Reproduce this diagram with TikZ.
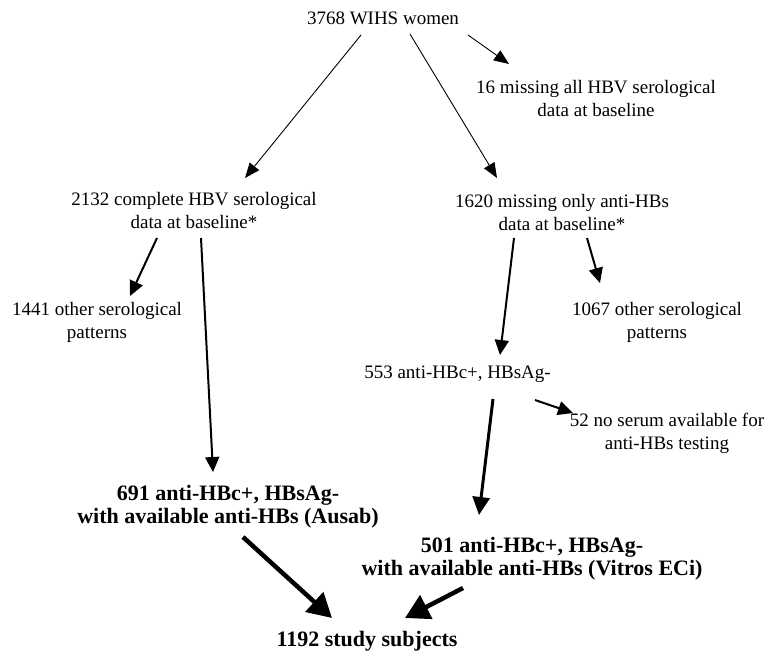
\documentclass[tikz,border=0pt]{standalone}
\usepackage{fontspec}
\setmainfont{Liberation Serif}
\usepackage{tikz}
\usetikzlibrary{arrows.meta}

\tikzset{
  txt/.style={inner sep=0pt, align=center, font=\fontsize{19}{23}\selectfont},
  bigtxt/.style={inner sep=0pt, align=center, font=\fontsize{22}{23}\selectfont\bfseries},
  thinarrow/.style={line width=0.9pt, -{Triangle[length=15pt,width=12pt]}},
  midarrow/.style={line width=2pt, -{Triangle[length=15pt,width=14pt]}},
  boldarrow/.style={line width=4.5pt, -{Triangle[length=24pt,width=26pt]}}
}

\begin{document}
\begin{tikzpicture}[x=1pt,y=-1pt]
    \useasboundingbox (0,0) rectangle (773,654);

    % Top level
    \node[txt] (women) at (383,18.5) {3768 WIHS women};
    \node[txt] (miss16) at (596,98) {16 missing all HBV serological\\data at baseline};

    % Second level
    \node[txt] (complete) at (194,210) {2132 complete HBV serological\\data at baseline*};
    \node[txt] (missanti) at (562,212) {1620 missing only anti-HBs\\data at baseline*};

    % Excluded patterns
    \node[txt] (other1441) at (97,322) {1441 other serological\\patterns};
    \node[txt] (other1067) at (657,322) {1067 other serological\\patterns};
    \node[txt] (hbc553) at (457.5,374.5) {553 anti-HBc+, HBsAg-};
    \node[txt] (noserum) at (667,433) {52 no serum available for\\anti-HBs testing};

    % Final groups
    \node[bigtxt] (ausab) at (228,506.5) {691 anti-HBc+, HBsAg-\\with available anti-HBs (Ausab)};
    \node[bigtxt] (vitros) at (532,558.5) {501 anti-HBc+, HBsAg-\\with available anti-HBs (Vitros ECi)};
    \node[bigtxt] (total) at (367,641) {1192 study subjects};

    % Arrows
    \draw[thinarrow] ([shift={(-22,16.5)}]women.center) -- ([shift={(51,-32)}]complete.center);
    \draw[thinarrow] ([shift={(27,15.5)}]women.center) -- ([shift={(-65,-34)}]missanti.center);
    \draw[thinarrow] ([shift={(85,16.5)}]women.center) -- ([shift={(-87,-34)}]miss16.center);

    \draw[midarrow] ([shift={(-37,28)}]complete.center) -- ([shift={(33,-26)}]other1441.center);
    \draw[midarrow] ([shift={(7,28)}]complete.center) -- ([shift={(-15,-34.5)}]ausab.center);
    \draw[midarrow] ([shift={(-48,26)}]missanti.center) -- ([shift={(42.5,-19.5)}]hbc553.center);
    \draw[midarrow] ([shift={(25,26)}]missanti.center) -- ([shift={(-57,-39)}]other1067.center);
    \draw[midarrow] ([shift={(77.5,25.5)}]hbc553.center) -- ([shift={(-94,-20)}]noserum.center);
    \draw[line width=3pt, -{Triangle[length=18pt,width=17pt]}] ([shift={(35.5,24.5)}]hbc553.center) -- ([shift={(-53,-43.5)}]vitros.center);

    \draw[boldarrow] ([shift={(15,30.5)}]ausab.center) -- ([shift={(-35,-23)}]total.center);
    \draw[boldarrow] ([shift={(-69,29.5)}]vitros.center) -- ([shift={(38,-23)}]total.center);
\end{tikzpicture}
\end{document}
